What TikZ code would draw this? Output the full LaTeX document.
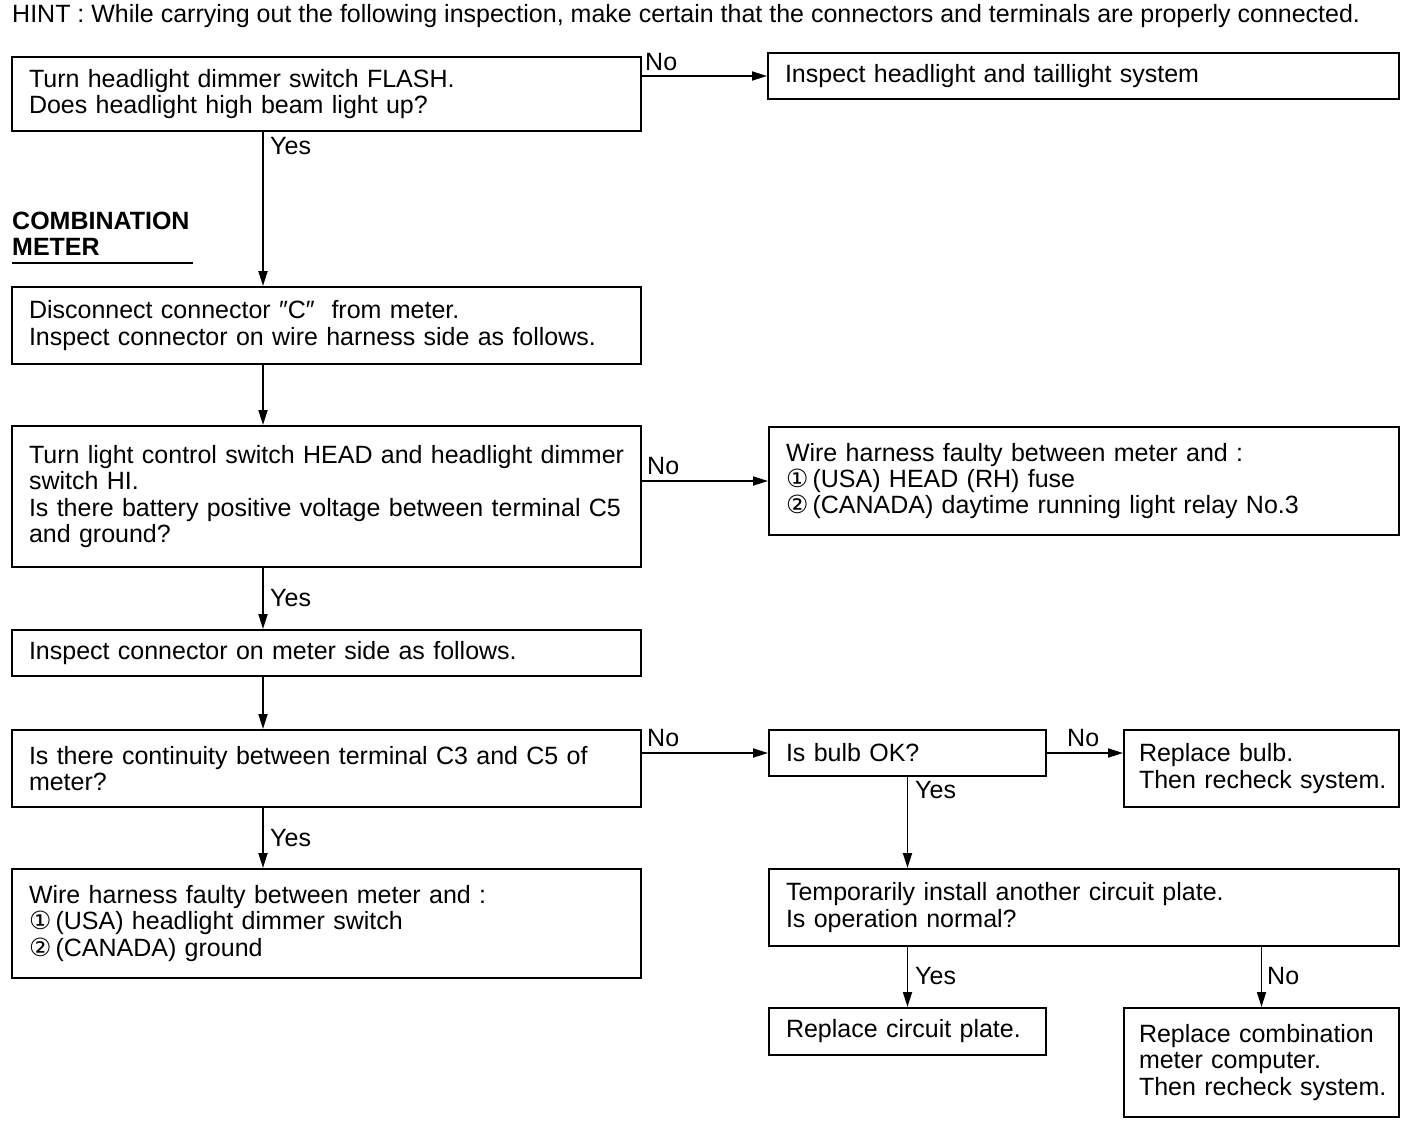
\documentclass[tikz,border=0pt]{standalone}
\usepackage{fontspec}
\setmainfont{Liberation Sans}
\newfontfamily\dv{DejaVu Sans}
\usetikzlibrary{arrows.meta}
\newcommand\mainfs{\fontsize{25}{26.3}\selectfont}
\begin{document}
\begin{tikzpicture}[x=1pt,y=-1pt,
  box/.style={draw, line width=2pt, rectangle, inner xsep=17pt, inner ysep=0pt,
    align=left, font=\mainfs, anchor=north west},
  arr/.style={line width=1.8pt, -{Triangle[length=15pt,width=9pt]}},
  lab/.style={font=\mainfs, anchor=west, inner sep=0pt}]
\useasboundingbox (0,0) rectangle (1408,1124);
\fill[white] (0,0) rectangle (1408,1124);

\node[lab] (hint) at (12,16) {HINT : While carrying out the following inspection, make certain that the connectors and terminals are properly connected.};

\node[font=\bfseries\mainfs, anchor=west, align=left, inner sep=0pt] (head) at (12,234) {COMBINATION\\METER};
\draw[line width=1.8pt] (12,263) -- (193,263);

\node[box, minimum height=74pt, text width=595pt] (B1) at (11,56) {Turn headlight dimmer switch FLASH.\\Does headlight high beam light up?};
\node[box, minimum height=46pt, text width=597pt] (Binsp) at (767,52) {Inspect headlight and taillight system};
\node[box, minimum height=77pt, text width=595pt] (B2) at (11,286) {Disconnect connector ″C″\ \ from meter.\\Inspect connector on wire harness side as follows.};
\node[box, minimum height=141pt, text width=595pt] (B3) at (11,425) {\mbox{Turn light control switch HEAD and headlight dimmer}\\switch HI.\\\mbox{Is there battery positive voltage between terminal C5}\\and ground?};
\node[box, minimum height=108pt, text width=596pt] (B4) at (768,426) {Wire harness faulty between meter and :\\{\dv ①}\,(USA) HEAD (RH) fuse\\{\dv ②}\,(CANADA) daytime running light relay No.3};
\node[box, minimum height=46pt, text width=595pt] (B5) at (11,629) {Inspect connector on meter side as follows.};
\node[box, minimum height=77pt, text width=595pt] (B6) at (11,729) {Is there continuity between terminal C3 and C5 of\\meter?};
\node[box, minimum height=46pt, text width=243pt] (B7) at (768,729) {Is bulb OK?};
\node[box, inner xsep=15pt, minimum height=77pt, text width=245pt] (B8) at (1123,729) {Replace bulb.\\\mbox{Then recheck system.}};
\node[box, minimum height=109pt, text width=595pt] (B9) at (11,868) {Wire harness faulty between meter and :\\{\dv ①}\,(USA) headlight dimmer switch\\{\dv ②}\,(CANADA) ground};
\node[box, minimum height=77pt, text width=596pt] (B10) at (768,868) {Temporarily install another circuit plate.\\Is operation normal?};
\node[box, minimum height=47pt, text width=243pt] (B11) at (768,1007) {Replace circuit plate.};
\node[box, inner xsep=15pt, minimum height=109pt, text width=245pt] (B12) at (1123,1007) {\mbox{Replace combination}\\\mbox{meter computer.}\\\mbox{Then recheck system.}};

\coordinate (cx) at (263,0);
\draw[arr] (B1.south -| cx) -- (B2.north -| cx);
\draw[arr] (B2.south -| cx) -- (B3.north -| cx);
\draw[arr] (B3.south -| cx) -- (B5.north -| cx);
\draw[arr] (B5.south -| cx) -- (B6.north -| cx);
\draw[arr] (B6.south -| cx) -- (B9.north -| cx);
\draw[arr] (B1.east |- Binsp.west) -- (Binsp.west);
\draw[arr] (B3.east |- B4.west) -- (B4.west);
\draw[arr] (B6.east |- B7.west) -- (B7.west);
\draw[arr] (B7.east) -- (B8.west |- B7.east);
\draw[arr] (B7.south) -- (B7.south |- B10.north);
\draw[arr] (B11.north |- B10.south) -- (B11.north);
\draw[arr] (B12.north |- B10.south) -- (B12.north);

\node[lab] (l1) at (645,62) {No};
\node[lab] (l2) at (270,146) {Yes};
\node[lab] (l3) at (647,466) {No};
\node[lab] (l4) at (270,598) {Yes};
\node[lab] (l5) at (647,738) {No};
\node[lab] (l6) at (1067,738) {No};
\node[lab] (l7) at (270,838) {Yes};
\node[lab] (l8) at (915,790) {Yes};
\node[lab] (l9) at (915,976) {Yes};
\node[lab] (l10) at (1267,976) {No};
\end{tikzpicture}
\end{document}
